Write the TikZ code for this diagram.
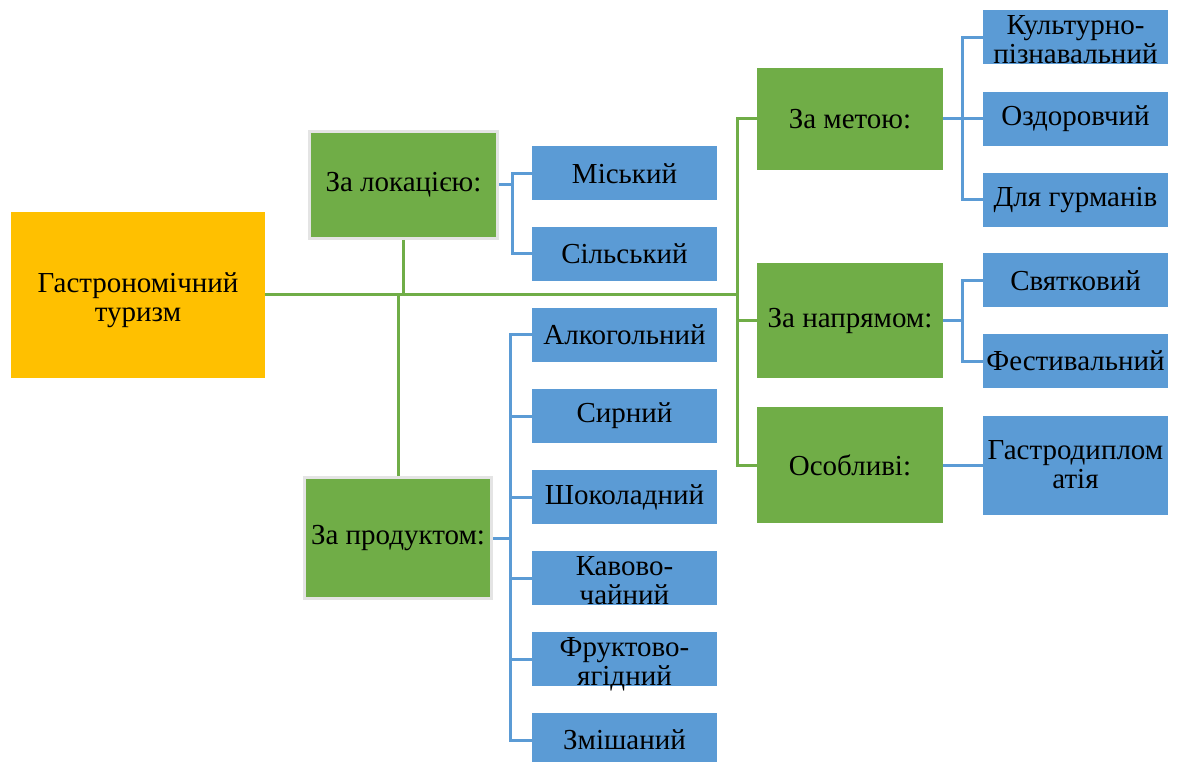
\documentclass[tikz,border=0pt]{standalone}
\usepackage{fontspec}
\setmainfont{Liberation Serif}
\newfontfamily\timesfont{Liberation Serif}
\usetikzlibrary{positioning}

\begin{document}
\begin{tikzpicture}[x=1pt, y=-1pt, every node/.style={font=\timesfont\fontsize{29}{29}\selectfont, align=center, inner sep=0pt},
  rootbox/.style={fill=rootyellow, minimum width=254pt, minimum height=166pt},
  groupbox/.style={fill=groupgreen, minimum width=186pt},
  framedbox/.style={groupbox, draw=framegray, line width=3pt},
  itembox/.style={fill=itemblue, minimum width=185pt, minimum height=54pt},
  greenline/.style={draw=groupgreen, line width=3pt},
  blueline/.style={draw=itemblue, line width=3pt}]
\definecolor{rootyellow}{HTML}{FFC000}
\definecolor{groupgreen}{HTML}{70AD47}
\definecolor{itemblue}{HTML}{5B9BD5}
\definecolor{framegray}{HTML}{E4E4E4}
\useasboundingbox (0,0) rectangle (1179,762);
\node[rootbox] (root) at (138,295) {};
\node[below=-23pt of root.center, anchor=north] (roottxt) {Гастрономічний\\туризм};
\node[framedbox, minimum width=188pt, minimum height=107pt] (loc) at (403.5,185) {За локацією:};
\node[framedbox, minimum width=187pt, minimum height=121pt] (prod) at (398,538) {За продуктом:};
\node[groupbox, minimum height=102pt] (goal) at (850,119) {За метою:};
\node[groupbox, minimum height=115pt] (dir) at (850,320.5) {За напрямом:};
\node[groupbox, minimum height=116pt] (spec) at (850,465) {Особливі:};
\node[itembox] (city) at (624.5,173.5) {Міський};
\node[itembox] (village) at (624.5,254) {Сільський};
\node[itembox] (alc) at (624.5,335) {Алкогольний};
\node[itembox] (cheese) at (624.5,416) {Сирний};
\node[itembox] (choc) at (624.5,497) {Шоколадний};
\node[itembox] (coffee) at (624.5,578) {};
\node[below=-22pt of coffee.center, anchor=north] (coffeetxt) {Кавово-\\чайний};
\node[itembox] (fruit) at (624.5,659) {};
\node[below=-22pt of fruit.center, anchor=north] (fruittxt) {Фруктово-\\ягідний};
\node[itembox] (mixed) at (624.5,740) {Змішаний};
\node[itembox] (cult) at (1075.5,37.5) {};
\node[below=-22pt of cult.center, anchor=north] (culttxt) {Культурно-\\пізнавальний};
\node[itembox] (health) at (1075.5,119) {Оздоровчий};
\node[itembox] (gourmet) at (1075.5,200) {Для гурманів};
\node[itembox] (holiday) at (1075.5,280.5) {Святковий};
\node[itembox] (fest) at (1075.5,361) {Фестивальний};
\node[itembox, minimum height=99pt] (diplo) at (1075.5,465) {Гастродиплом\\атія};
\coordinate (jr) at (737,295);
\draw[greenline] (root.east) -- (jr);
\draw[greenline] (loc.south) -- (loc.south |- jr);
\draw[greenline] (prod.north) -- (prod.north |- jr);
\draw[greenline] (goal.west) -| (jr);
\draw[greenline] (spec.west) -| (jr);
\draw[greenline] (dir.west) -- (dir.west -| jr);
\coordinate (bl) at (512,185);
\draw[blueline] (loc.east) -- (bl);
\foreach \n in {city, village} \draw[blueline] (bl) |- (\n.west);
\coordinate (bp) at (510,538);
\draw[blueline] (prod.east) -- (bp);
\foreach \n in {alc, cheese, choc, coffee, fruit, mixed} \draw[blueline] (bp) |- (\n.west);
\coordinate (bg) at (962,119);
\draw[blueline] (goal.east) -- (bg);
\foreach \n in {cult, health, gourmet} \draw[blueline] (bg) |- (\n.west);
\coordinate (bd) at (962,320.5);
\draw[blueline] (dir.east) -- (bd);
\foreach \n in {holiday, fest} \draw[blueline] (bd) |- (\n.west);
\draw[blueline] (spec.east) -- (diplo.west);
\end{tikzpicture}
\end{document}
